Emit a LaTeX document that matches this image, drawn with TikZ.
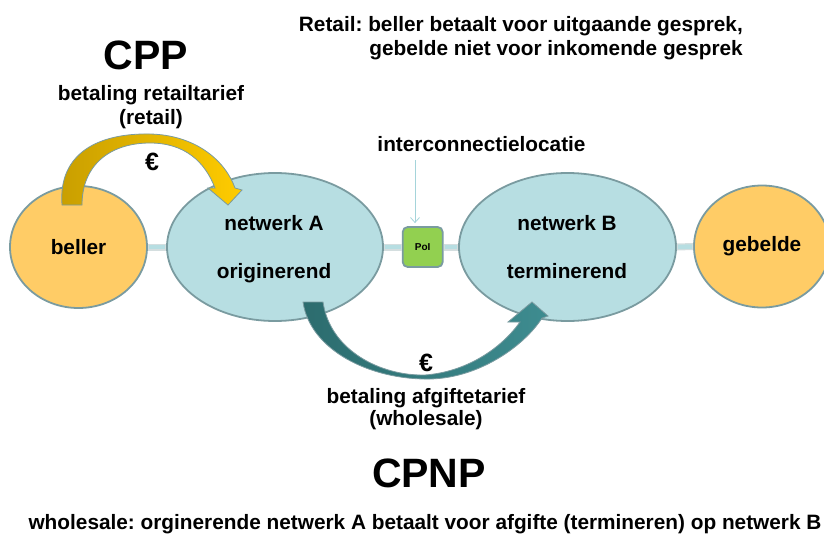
\documentclass[tikz,border=0pt]{standalone}
\usepackage{fontspec}
\setmainfont{Liberation Sans}
\frenchspacing
\usetikzlibrary{shapes.geometric,arrows.meta}
\definecolor{netfill}{RGB}{183,222,226}
\definecolor{userfill}{RGB}{255,204,102}
\definecolor{edgegray}{RGB}{122,155,160}
\definecolor{poifill}{RGB}{146,208,80}
\definecolor{barteal}{RGB}{183,222,226}
\definecolor{barrim}{RGB}{212,222,223}
\definecolor{goldL}{RGB}{200,158,0}
\definecolor{goldR}{RGB}{255,204,0}
\definecolor{tealL}{RGB}{44,108,110}
\definecolor{tealR}{RGB}{62,140,144}
\definecolor{pointer}{RGB}{165,212,218}
\tikzset{
  netnode/.style={ellipse, draw=edgegray, line width=1.8pt, fill=netfill, inner sep=0pt},
  usernode/.style={ellipse, draw=edgegray, line width=1.8pt, fill=userfill, inner sep=0pt,
    font=\bfseries\fontsize{20.8}{24}\selectfont},
  txt/.style={inner sep=0pt, anchor=base, font=\bfseries\fontsize{20.8}{24}\selectfont},
  bigtxt/.style={inner sep=0pt, anchor=base, font=\bfseries\fontsize{41}{46}\selectfont},
  eurotxt/.style={inner sep=0pt, font=\bfseries\fontsize{25}{28}\selectfont},
  barrimline/.style={line width=7pt, draw=barrim},
  barline/.style={line width=4.5pt, draw=barteal},
  payarrow/.style={draw=edgegray, line width=0.8pt}
}
\begin{document}
\begin{tikzpicture}[x=1pt,y=-1pt]
\useasboundingbox (0,0) rectangle (824,533);

% nodes
\node[usernode, minimum width=137pt, minimum height=122pt] (beller) at (78.5,247) {beller};
\node[netnode, minimum width=216pt, minimum height=148pt] (A) at (275,247) {};
\node[rectangle, rounded corners=5pt, draw=edgegray, line width=1.8pt, fill=poifill,
      minimum width=40pt, minimum height=40pt, inner sep=0pt,
      font=\bfseries\fontsize{10}{12}\selectfont] (PoI) at (422.7,247) {PoI};
\node[netnode, minimum width=217pt, minimum height=148pt] (B) at (567.5,247) {};
\node[usernode, minimum width=136pt, minimum height=122pt] (gebelde) at (762,246.5) {gebelde};

% connector bars
\foreach \s/\t in {beller/A, A/PoI, PoI/B, B/gebelde}{
  \draw[barrimline] (\s.east) -- (\t.west);
  \draw[barline] ([xshift=1pt]\s.east) -- ([xshift=-1pt]\t.west);
}

% texts inside networks
\node[txt] (tA1) at (274,230) {netwerk A};
\node[txt] (tA2) at (274,278.3) {originerend};
\node[txt] (tB1) at (567,230) {netwerk B};
\node[txt] (tB2) at (567,278.3) {terminerend};

% top (retail) arrow
\path[payarrow, left color=goldL, right color=goldR]
  (62,205) .. controls (58,152) and (100,133) .. (150,134)
  .. controls (195,135) and (225,160) .. (235,188)
  -- (242,190) -- (228,205) -- (208,188) -- (215,188)
  .. controls (205,162) and (185,143) .. (150,143)
  .. controls (110,143) and (82,165) .. (82,205) -- cycle;

% bottom (wholesale) arrow
\path[payarrow, left color=tealL, right color=tealR]
  (303,302) .. controls (310,350) and (370,380) .. (430,379)
  .. controls (480,378) and (525,345) .. (542,318)
  -- (548,316) -- (532,302) -- (508,322) -- (520,322)
  .. controls (500,350) and (465,372) .. (425,375)
  .. controls (380,376) and (330,350) .. (323,302) -- cycle;

% interconnection pointer
\node[txt] (ic) at (481.5,151.7) {interconnectielocatie};
\coordinate (icstart) at (415,160);
\draw[pointer, line width=0.8pt, -{Straight Barb[length=5pt,width=9pt]}, shorten >=3pt]
  (icstart) -- (icstart |- PoI.north);

% headings and labels
\node[txt, anchor=base east] (r1) at (743,31.5) {Retail: beller betaalt voor uitgaande gesprek,};
\node[txt, anchor=base east] (r2) at (743,55) {gebelde niet voor inkomende gesprek};
\node[bigtxt] (cpp) at (146,69.3) {CPP};
\node[txt] (bet1) at (151,100) {betaling retailtarief};
\node[txt] (bet2) at (151,124) {(retail)};
\node[eurotxt] (eur1) at (152,161.5) {€};
\node[eurotxt] (eur2) at (426,362.5) {€};
\node[txt] (bet3) at (426,403.3) {betaling afgiftetarief};
\node[txt] (bet4) at (426,425.5) {(wholesale)};
\node[bigtxt] (cpnp) at (429,487) {CPNP};
\node[txt] (whs) at (425,529) {wholesale: orginerende netwerk A betaalt voor afgifte (termineren) op netwerk B};
\end{tikzpicture}
\end{document}
